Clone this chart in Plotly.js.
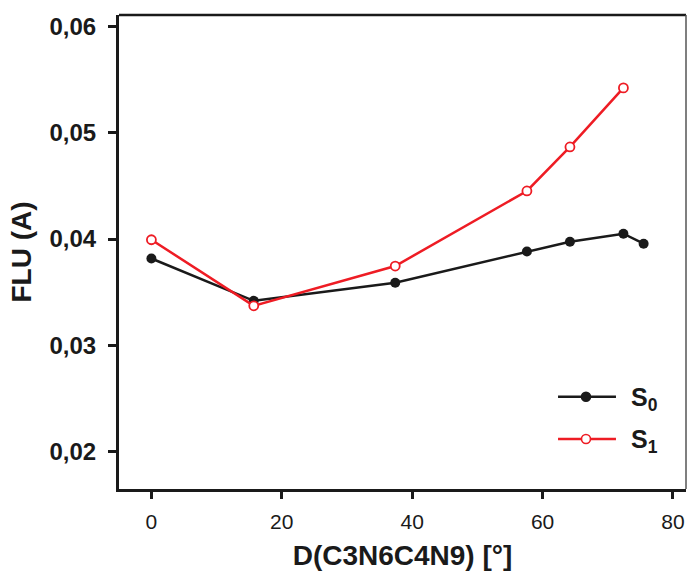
<!DOCTYPE html>
<html>
<head>
<meta charset="utf-8">
<script src="https://cdn.plot.ly/plotly-3.0.1.min.js"></script>
<style>html,body{margin:0;padding:0;background:#fff;}#chart{width:688px;height:574px;}</style>
</head>
<body>
<div id="chart"></div>
<script>
const xS0 = [0, 15.7, 37.4, 57.6, 64.2, 72.4, 75.5];
const yS0 = [0.03817, 0.03419, 0.03589, 0.03883, 0.03975, 0.0405, 0.03956];
const xS1 = [0, 15.7, 37.4, 57.6, 64.2, 72.4];
const yS1 = [0.03993, 0.03372, 0.03746, 0.04452, 0.04866, 0.05421];
const xTicks = [0, 20, 40, 60, 80];
const yTicks = [0.02, 0.03, 0.04, 0.05, 0.06];
const yTickText = ['0,02', '0,03', '0,04', '0,05', '0,06'];
const seriesNames = ['0', '1'];

const font = 'Liberation Sans, Arial, sans-serif';
const ink = '#1a1a1a';
const red = '#ee1c24';
const traces = [
  {x: xS0, y: yS0, name: 'S' + seriesNames[0], mode: 'lines+markers', type: 'scatter', showlegend: false,
   line: {color: ink, width: 2.5},
   marker: {color: ink, size: 10, symbol: 'circle'}},
  {x: xS1, y: yS1, name: 'S' + seriesNames[1], mode: 'lines+markers', type: 'scatter', showlegend: false,
   line: {color: red, width: 2.5},
   marker: {color: '#ffffff', size: 9, symbol: 'circle', line: {color: red, width: 1.8}}}
];

// custom legend (key lines, key markers, labels) in paper coordinates
const legRows = [0.1947, 0.1055];
const legColors = [ink, red];
const legFill = [ink, '#ffffff'];
const shapes = [
  {type: 'line', xref: 'paper', yref: 'paper', x0: 0, x1: 1, y0: 1, y1: 1, line: {color: ink, width: 2.5}},
  {type: 'line', xref: 'paper', yref: 'paper', x0: 1, x1: 1, y0: 0, y1: 1, line: {color: '#555', width: 1.5}}
];
const annotations = [];
legRows.forEach((ry, i) => {
  shapes.push({type: 'line', xref: 'paper', yref: 'paper', x0: 0.7743, x1: 0.8765, y0: ry, y1: ry,
               line: {color: legColors[i], width: 2.5}});
  shapes.push({type: 'circle', xref: 'paper', yref: 'paper', xsizemode: 'pixel', ysizemode: 'pixel',
               xanchor: 0.8236, yanchor: ry, x0: -4.5, x1: 4.5, y0: -4.5, y1: 4.5,
               fillcolor: legFill[i], line: {color: legColors[i], width: 1.6}});
  annotations.push({xref: 'paper', yref: 'paper', x: 0.9, y: ry, xanchor: 'left', yanchor: 'middle',
                    showarrow: false, text: '<b>S<sub>' + seriesNames[i] + '</sub></b>',
                    font: {size: 25, family: font, color: ink}, yshift: -2});
});

const layout = {
  width: 688, height: 574,
  margin: {l: 119, r: 2, t: 15, b: 85},
  paper_bgcolor: '#fff', plot_bgcolor: '#fff',
  font: {family: font, color: ink},
  showlegend: false,
  xaxis: {range: [-4.97, 82.0], tickvals: xTicks, ticktext: xTicks.map(String),
          showgrid: false, zeroline: false, showline: true, linecolor: ink, linewidth: 3,
          ticks: 'outside', ticklen: 7, tickwidth: 3, tickcolor: ink, ticklabelstandoff: 5,
          tickfont: {size: 21, family: font, color: ink},
          title: {text: '<b>D(C3N6C4N9) [°]</b>', font: {size: 28, family: font, color: ink}, standoff: 14}},
  yaxis: {range: [0.01649, 0.06107], tickvals: yTicks, ticktext: yTickText.map(t => '<b>' + t + '</b>'),
          showgrid: false, zeroline: false, showline: true, linecolor: ink, linewidth: 3,
          ticks: 'outside', ticklen: 8, tickwidth: 3, tickcolor: ink, ticklabelstandoff: 7,
          tickfont: {size: 24, family: font, color: ink},
          title: {text: '<b>FLU (A)</b>', font: {size: 28, family: font, color: ink}, standoff: 10}},
  shapes: shapes,
  annotations: annotations
};
Plotly.newPlot('chart', traces, layout, {displayModeBar: false, staticPlot: true});
</script>
</body>
</html>
